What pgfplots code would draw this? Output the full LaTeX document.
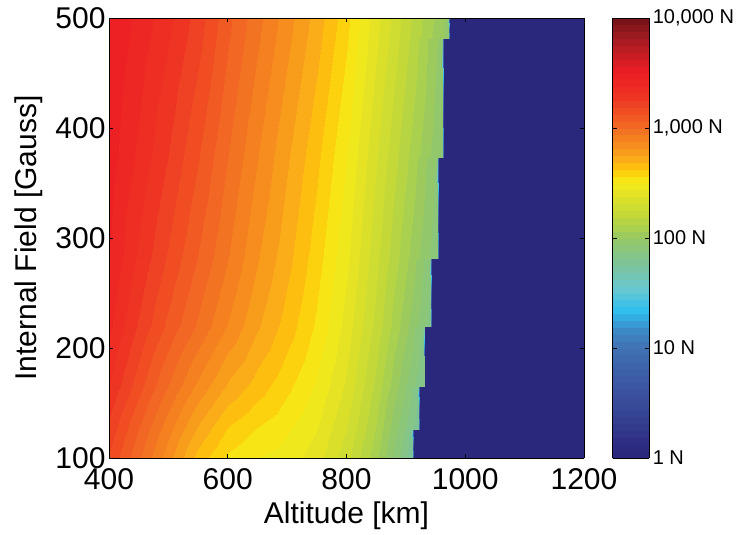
\documentclass[border=0pt]{standalone}
\usepackage{pgfplots}
\pgfplotsset{compat=1.18}
\usepackage{fontspec}
\setmainfont{Liberation Sans}
\pgfplotsset{
  colormap={myjet}{
    rgb255(0cm)=(42,40,125)
    rgb255(0.1cm)=(45,45,130)
    rgb255(0.4cm)=(55,70,150)
    rgb255(0.7cm)=(60,90,165)
    rgb255(1.0cm)=(65,115,180)
    rgb255(1.16cm)=(60,140,200)
    rgb255(1.32cm)=(45,190,240)
    rgb255(1.53cm)=(105,200,210)
    rgb255(1.77cm)=(125,195,150)
    rgb255(2.0cm)=(150,200,100)
    rgb255(2.19cm)=(190,215,60)
    rgb255(2.37cm)=(222,224,40)
    rgb255(2.52cm)=(245,235,25)
    rgb255(2.63cm)=(254,200,10)
    rgb255(2.74cm)=(250,170,25)
    rgb255(2.86cm)=(246,140,30)
    rgb255(3.0cm)=(242,112,35)
    rgb255(3.16cm)=(240,80,35)
    rgb255(3.32cm)=(238,50,35)
    rgb255(3.53cm)=(237,28,36)
    rgb255(3.77cm)=(180,30,35)
    rgb255(4.0cm)=(120,20,25)
  },
}
\pgfplotsset{colormap={myjetsteps}{samples of colormap=(64 of myjet)}}

\begin{document}
\begin{tikzpicture}
\path[use as bounding box] (0,0) rectangle (739bp,535bp);
\begin{axis}[
  at={(109bp,77bp)}, anchor=south west,
  scale only axis, width=475bp, height=440bp,
  view={0}{90},
  xmin=400, xmax=1200, ymin=100, ymax=500,
  xtick={400,600,...,1200}, ytick={100,200,...,500},
  tick align=inside, major tick length=4bp,
  axis on top,
  /pgf/number format/assume math mode=true,
  /pgf/number format/1000 sep={},
  tick label style={font=\fontsize{30bp}{36bp}\selectfont},
  xticklabel style={yshift=-7bp},
  xlabel={Altitude [km]}, ylabel={Internal Field [Gauss]},
  every axis x label/.style={at={(axis description cs:0.5,-0.1305)}, anchor=center, font=\fontsize{30bp}{36bp}\selectfont},
  every axis y label/.style={at={(axis description cs:-0.169,0.5)}, rotate=90, anchor=center, font=\fontsize{30bp}{36bp}\selectfont},
  colormap name=myjetsteps,
  colormap access=piecewise constant,
  point meta min=0, point meta max=4,
  axis line style={line width=0.8bp, black},
  every tick/.style={line width=0.8bp, black},
  colorbar,
  colorbar style={
    at={(parent axis.north east)}, anchor=north west, xshift=20.2bp,
    scale only axis, width=36.6bp, height=440bp,
    ytick={0,1,2,3,4}, yticklabels={1 N,10 N,100 N,{1,000 N},{10,000 N}},
    yticklabel style={font=\fontsize{20bp}{24bp}\selectfont},
    tick align=inside, ytick pos=both, yticklabel pos=right,
    major tick length=4bp,
    axis line style={line width=0.8bp, black},
    every tick/.style={line width=0.8bp, black},
  },
]
\addplot3[surf, shader=interp, mesh/rows=14, mesh/cols=14] table {
x y z
400 100 3.18
450 100 3.01
500 100 2.84
550 100 2.66
600 100 2.55
650 100 2.50
700 100 2.47
750 100 2.40
800 100 2.27
850 100 2.08
900 100 1.82
910 100 1.74
913 100 0
1200 100 0
400 126.5 3.23
450 126.5 3.06
500 126.5 2.90
550 126.5 2.74
600 126.5 2.62
650 126.5 2.56
700 126.5 2.51
750 126.5 2.44
800 126.5 2.31
850 126.5 2.12
900 126.5 1.87
910 126.5 1.77
913 126.5 0
1200 126.5 0
400 126.5 3.23
450 126.5 3.06
500 126.5 2.90
550 126.5 2.74
600 126.5 2.62
650 126.5 2.56
700 126.5 2.51
750 126.5 2.44
800 126.5 2.31
850 126.5 2.12
900 126.5 1.87
920 126.5 1.77
923 126.5 0
1200 126.5 0
400 165.6 3.31
450 165.6 3.15
500 165.6 3.00
550 165.6 2.86
600 165.6 2.74
650 165.6 2.66
700 165.6 2.58
750 165.6 2.49
800 165.6 2.36
850 165.6 2.17
900 165.6 1.94
920 165.6 1.81
923 165.6 0
1200 165.6 0
400 165.6 3.31
450 165.6 3.15
500 165.6 3.00
550 165.6 2.86
600 165.6 2.74
650 165.6 2.66
700 165.6 2.58
750 165.6 2.49
800 165.6 2.36
850 165.6 2.17
900 165.6 1.94
930 165.6 1.81
933 165.6 0
1200 165.6 0
400 220.3 3.39
450 220.3 3.24
500 220.3 3.11
550 220.3 2.99
600 220.3 2.87
650 220.3 2.76
700 220.3 2.66
750 220.3 2.55
800 220.3 2.41
850 220.3 2.23
900 220.3 2.02
930 220.3 1.85
933 220.3 0
1200 220.3 0
400 220.3 3.39
450 220.3 3.24
500 220.3 3.11
550 220.3 2.99
600 220.3 2.87
650 220.3 2.76
700 220.3 2.66
750 220.3 2.55
800 220.3 2.41
850 220.3 2.23
900 220.3 2.02
941 220.3 1.85
944 220.3 0
1200 220.3 0
400 282.2 3.44
450 282.2 3.30
500 282.2 3.18
550 282.2 3.06
600 282.2 2.94
650 282.2 2.82
700 282.2 2.71
750 282.2 2.59
800 282.2 2.45
850 282.2 2.27
900 282.2 2.08
941 282.2 1.89
944 282.2 0
1200 282.2 0
400 282.2 3.44
450 282.2 3.30
500 282.2 3.18
550 282.2 3.06
600 282.2 2.94
650 282.2 2.82
700 282.2 2.71
750 282.2 2.59
800 282.2 2.45
850 282.2 2.27
900 282.2 2.08
952 282.2 1.89
955 282.2 0
1200 282.2 0
400 373.3 3.47
450 373.3 3.36
500 373.3 3.25
550 373.3 3.13
600 373.3 3.00
650 373.3 2.88
700 373.3 2.76
750 373.3 2.64
800 373.3 2.50
850 373.3 2.32
900 373.3 2.14
952 373.3 1.93
955 373.3 0
1200 373.3 0
400 373.3 3.47
450 373.3 3.36
500 373.3 3.25
550 373.3 3.13
600 373.3 3.00
650 373.3 2.88
700 373.3 2.76
750 373.3 2.64
800 373.3 2.50
850 373.3 2.32
900 373.3 2.14
961 373.3 1.93
964 373.3 0
1200 373.3 0
400 481.8 3.50
450 481.8 3.41
500 481.8 3.32
550 481.8 3.21
600 481.8 3.07
650 481.8 2.95
700 481.8 2.83
750 481.8 2.71
800 481.8 2.57
850 481.8 2.39
900 481.8 2.21
961 481.8 1.97
964 481.8 0
1200 481.8 0
400 481.8 3.50
450 481.8 3.41
500 481.8 3.32
550 481.8 3.21
600 481.8 3.07
650 481.8 2.95
700 481.8 2.83
750 481.8 2.71
800 481.8 2.57
850 481.8 2.39
900 481.8 2.21
971 481.8 1.97
974 481.8 0
1200 481.8 0
400 500 3.50
450 500 3.42
500 500 3.33
550 500 3.22
600 500 3.08
650 500 2.96
700 500 2.84
750 500 2.72
800 500 2.58
850 500 2.40
900 500 2.22
971 500 1.98
974 500 0
1200 500 0
};
\end{axis}
\end{tikzpicture}
\end{document}
